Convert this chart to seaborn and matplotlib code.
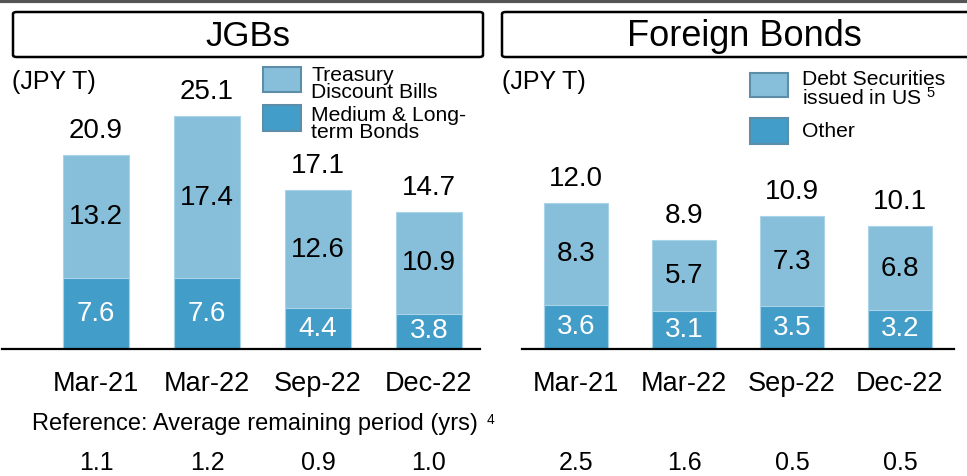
import matplotlib.pyplot as plt
import seaborn as sns
from matplotlib.patches import Rectangle, FancyBboxPatch
from matplotlib.lines import Line2D
import matplotlib.transforms as mtransforms

# Data
dates = ['Mar-21', 'Mar-22', 'Sep-22', 'Dec-22']
jgb_total = [20.9, 25.1, 17.1, 14.7]
jgb_tdb = [13.2, 17.4, 12.6, 10.9]
jgb_long = [7.6, 7.6, 4.4, 3.8]
jgb_period = ['1.1', '1.2', '0.9', '1.0']

fb_total = [12.0, 8.9, 10.9, 10.1]
fb_us = [8.3, 5.7, 7.3, 6.8]
fb_other = [3.6, 3.1, 3.5, 3.2]
fb_period = ['2.5', '1.6', '0.5', '0.5']

light = '#87BFDA'
dark = '#429DC9'
edge = '#5E8DA8'

sns.set_style('white')
plt.rcParams['font.family'] = ['Liberation Sans', 'DejaVu Sans']
plt.rcParams['text.color'] = 'black'
plt.rcParams['xtick.color'] = 'black'
plt.rcParams['xtick.labelcolor'] = 'black'
plt.rcParams['mathtext.fontset'] = 'custom'
plt.rcParams['mathtext.rm'] = 'Liberation Sans'
plt.rcParams['mathtext.default'] = 'rm'

fig = plt.figure(figsize=(9.67, 4.76), dpi=100)
W, H = 967, 476


def fx(px):
    return px / W


def fy(py):
    return 1 - py / H


def stacked(ax, top_seg, bottom_seg, totals, periods, xlim, ylim):
    sns.barplot(x=dates, y=totals, color=light, width=0.6, saturation=1,
                edgecolor='#A9D3E8', linewidth=0.8, ax=ax)
    sns.barplot(x=dates, y=bottom_seg, color=dark, width=0.6, saturation=1,
                edgecolor='#A9D3E8', linewidth=0.8, ax=ax)
    ax.bar_label(ax.containers[0], labels=[f'{v:.1f}' for v in totals],
                 padding=8, fontsize=20, color='black')
    ax.bar_label(ax.containers[1], labels=[f'{v:.1f}' for v in bottom_seg],
                 label_type='center', fontsize=20, color='white')
    for i, (b, t) in enumerate(zip(bottom_seg, top_seg)):
        ax.text(i, b + t / 2, f'{t:.1f}', ha='center', va='center', fontsize=20, color='black')
    ax.set_xlim(*xlim)
    ax.set_ylim(*ylim)
    ax.set_xlabel('')
    ax.set_ylabel('')
    ax.set_yticks([])
    for s in ['top', 'right', 'left']:
        ax.spines[s].set_visible(False)
    ax.spines['bottom'].set_color('black')
    ax.spines['bottom'].set_linewidth(1.6)
    ax.tick_params(axis='x', length=0, pad=16, labelsize=19.5, labelcolor='black')
    # average remaining period row under each bar
    trans = mtransforms.blended_transform_factory(ax.transData, fig.transFigure)
    for i, p in enumerate(periods):
        ax.text(i, fy(463), p, transform=trans, ha='center', va='center', fontsize=18, clip_on=False)


ax1 = fig.add_axes([fx(2), fy(349), fx(478), (349 - 60) / H])
stacked(ax1, jgb_tdb, jgb_long, jgb_total, jgb_period, (-0.847, 3.46), (0, 31.1))

ax2 = fig.add_axes([fx(522), fy(349), fx(432), (349 - 60) / H])
stacked(ax2, fb_us, fb_other, fb_total, fb_period, (-0.5, 3.5), (0, 23.7))

# top rule
fig.add_artist(Line2D([0, 1], [fy(1), fy(1)], color='#555555', lw=3))

# panel title boxes
for x0, x1, title, cx, fs in [(13, 483, 'JGBs', 248, 25), (502, 975, 'Foreign Bonds', 744, 26)]:
    fig.add_artist(FancyBboxPatch((fx(x0), fy(57)), fx(x1 - x0), (57 - 12) / H,
                                  boxstyle='round,pad=0,rounding_size=0.004',
                                  fc='white', ec='black', lw=1.8, transform=fig.transFigure))
    fig.text(fx(cx), fy(36), title, ha='center', va='center', fontsize=fs)

fig.text(fx(12), fy(82), '(JPY T)', ha='left', va='center', fontsize=18)
fig.text(fx(502), fy(82), '(JPY T)', ha='left', va='center', fontsize=18)

# legends: (patch x, patch top, patch bottom, colour, label, text x, text top)
legend_items = [
    (263, 67, 92, light, 'Treasury\nDiscount Bills', 311, 66),
    (263, 105, 131, dark, 'Medium & Long-\nterm Bonds', 311, 106),
    (750, 73, 97, light, 'Debt Securities\nissued in US $^{5}$', 802, 70),
    (750, 118, 144, dark, 'Other', 802, 122),
]
for x0, y0, y1, col, lab, tx, ty in legend_items:
    fig.add_artist(Rectangle((fx(x0), fy(y1)), fx(38), (y1 - y0) / H,
                             fc=col, ec=edge, lw=1.5, transform=fig.transFigure))
    fig.text(fx(tx), fy(ty), lab, ha='left', va='top', fontsize=15.2, linespacing=0.88)

fig.text(fx(32), fy(424), 'Reference: Average remaining period (yrs)', ha='left', va='center', fontsize=17)
fig.text(fx(487), fy(413), '4', ha='left', va='top', fontsize=10)

fig.savefig('out.png', dpi=100)
